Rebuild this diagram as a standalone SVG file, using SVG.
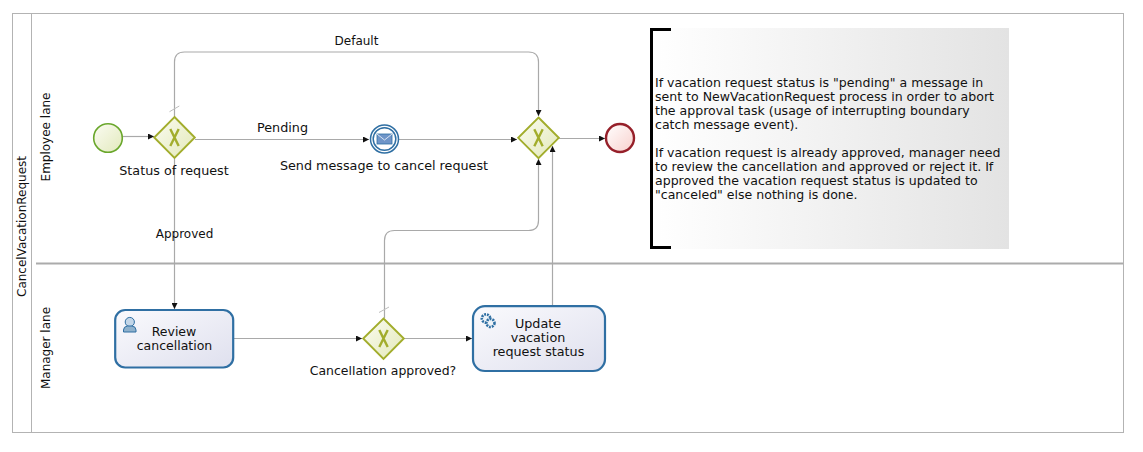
<svg xmlns="http://www.w3.org/2000/svg" width="1143" height="452" viewBox="0 0 1143 452">
<style>
text{font-family:"DejaVu Sans",sans-serif;font-size:12px;fill:#111}
.m{text-anchor:middle}
.l{font-size:12.75px}
.n{font-size:12.55px}
.flow{fill:none;stroke:#a9a9a9;stroke-width:1.2}
.gw{fill:url(#gGw);stroke:#a2ad2c;stroke-width:1.9;stroke-linejoin:miter}
.x{fill:none;stroke:#a2ad2c;stroke-width:2.4}
.task{fill:url(#gTask);stroke:#2f6fa3;stroke-width:2.2}
.gear{fill:#eef3f8;stroke:#2f6fa3;stroke-width:2.6;stroke-dasharray:1.900 1}
</style>
<defs>
<linearGradient id="gGw" x1="0" y1="0" x2="1" y2="1"><stop offset="0" stop-color="#fbfcf2"/><stop offset="1" stop-color="#e2e8b8"/></linearGradient>
<linearGradient id="gStart" x1="0" y1="0" x2="1" y2="1"><stop offset="0" stop-color="#fbfcf2"/><stop offset="1" stop-color="#e2e9bd"/></linearGradient>
<linearGradient id="gEnd" x1="0" y1="0" x2="1" y2="1"><stop offset="0" stop-color="#ffffff"/><stop offset="1" stop-color="#f8d0cc"/></linearGradient>
<linearGradient id="gTask" x1="0" y1="0" x2="1" y2="1"><stop offset="0" stop-color="#fafafd"/><stop offset="1" stop-color="#dfe0ee"/></linearGradient>
<linearGradient id="gNote" x1="0" y1="0" x2="1" y2="0"><stop offset="0" stop-color="#ffffff"/><stop offset="1" stop-color="#e3e3e3"/></linearGradient>
<marker id="arr" viewBox="0 0 6 6" refX="6" refY="3" markerWidth="6" markerHeight="6" markerUnits="userSpaceOnUse" orient="auto"><path d="M0 0L6 3L0 6Z" fill="#111"/></marker>
<g id="xm"><path class="x" d="M-4.200 -8.500L4.200 8.500M4.200 -8.500L-4.200 8.500"/></g>
</defs>
<rect width="1143" height="452" fill="#fff"/>
<g id="pool">
<rect x="12.500" y="13.500" width="1111" height="419" fill="none" stroke="#b3b3b3"/>
<line x1="31.500" y1="13.500" x2="31.500" y2="432.500" stroke="#b3b3b3"/>
<text class="m" transform="translate(26 226.500) rotate(-90)">CancelVacationRequest</text>
</g>
<g id="lanes">
<line x1="36" y1="263.500" x2="1123" y2="263.500" stroke="#ababab" stroke-width="2"/>
<text class="m" transform="translate(50 137) rotate(-90)">Employee lane</text>
<text class="m" transform="translate(50 348) rotate(-90)">Manager lane</text>
</g>
<g id="connectors">
<path class="flow" marker-end="url(#arr)" d="M123 136.500H154"/>
<path class="flow" marker-end="url(#arr)" d="M174.500 117V62Q174.500 52 184.500 52H528.500Q538.500 52 538.500 62V116"/>
<path class="flow" marker-end="url(#arr)" d="M195 139.500H369"/>
<path class="flow" marker-end="url(#arr)" d="M399 139.500H517"/>
<path class="flow" marker-end="url(#arr)" d="M559 138.500H605"/>
<path class="flow" marker-end="url(#arr)" d="M174.500 158V309"/>
<path class="flow" marker-end="url(#arr)" d="M234 338.500H362"/>
<path class="flow" marker-end="url(#arr)" d="M404 338.500H472"/>
<path class="flow" marker-end="url(#arr)" d="M384.500 318V240.500Q384.500 230.500 394.500 230.500H528.500Q538.500 230.500 538.500 220.500V159"/>
<path class="flow" marker-end="url(#arr)" d="M552.500 305V146"/>
<path d="M169.500 111.700L179.300 106M379 312.500L389 307" fill="none" stroke="#bdbdbd"/>
</g>
<g id="start"><circle cx="108" cy="138" r="14.300" fill="url(#gStart)" stroke="#6aa72c" stroke-width="1.600"/></g>
<g id="gw-status"><path class="gw" d="M174.500 117L194.800 137.500L174.500 157.800L154.200 137.500Z"/><use href="#xm" x="174.500" y="137.500"/><text class="m l" x="174" y="175">Status of request</text></g>
<g id="msg-event">
<circle cx="384.500" cy="139" r="14" fill="#fff" stroke="#2f6fa3" stroke-width="1.500"/>
<circle cx="384.500" cy="139" r="11.300" fill="#fff" stroke="#2f6fa3" stroke-width="1.500"/>
<rect x="377" y="134" width="15" height="10" fill="#6f95c8" stroke="#2f6fa3" stroke-width="0.800"/>
<path d="M377 134L384.500 140L392 134" fill="none" stroke="#e6edf6" stroke-width="0.900"/>
<text class="m l" x="384" y="170">Send message to cancel request</text>
</g>
<g id="gw-merge"><path class="gw" d="M538.500 117.500L558.800 137.800L538.500 158.100L518.200 137.800Z"/><use href="#xm" x="538.500" y="137.800"/></g>
<g id="end"><circle cx="620" cy="138" r="14" fill="url(#gEnd)" stroke="#96202a" stroke-width="2.400"/></g>
<g id="review">
<rect class="task" x="115.200" y="310" width="118" height="57.500" rx="10" ry="10"/>
<circle cx="129.800" cy="322" r="4.600" fill="#c3d6e8" stroke="#2f6fa3" stroke-width="1"/>
<path d="M123.500 332V330Q123.500 326.500 127.500 326H132Q136 326.500 136 330V332Z" fill="#8fb1cc" stroke="#2f6fa3" stroke-width="1"/>
<text class="m" x="174" y="336" style="font-size:12.500px">Review</text><text class="m" x="174.500" y="350" style="font-size:12.500px">cancellation</text>
</g>
<g id="gw-approved"><path class="gw" d="M383.500 318.500L403.800 338.500L383.500 358.800L363.200 338.500Z"/><use href="#xm" x="383.500" y="338.500"/><text class="m" x="383" y="375" style="font-size:12.450px">Cancellation approved?</text></g>
<g id="update">
<rect class="task" x="473" y="306.200" width="132" height="64.800" rx="12" ry="12"/>
<circle class="gear" cx="486" cy="318.500" r="4.200"/>
<circle class="gear" cx="490.500" cy="323" r="4"/>
<text class="m l" x="538" y="328">Update</text><text class="m l" x="538" y="342">vacation</text><text class="m l" x="538.500" y="356">request status</text>
</g>
<g id="labels">
<text class="m" x="356.500" y="45">Default</text>
<text class="m l" x="282.500" y="132">Pending</text>
<text class="m" x="184.500" y="238">Approved</text>
</g>
<g id="annotation">
<rect x="652" y="28" width="357" height="221" fill="url(#gNote)"/>
<path d="M671 29.500H651.500V247.500H671" fill="none" stroke="#000" stroke-width="3"/>
<text class="n" x="655" y="87">If vacation request status is "pending" a message in</text>
<text class="n" x="655" y="101">sent to NewVacationRequest process in order to abort</text>
<text class="n" x="655" y="115">the approval task (usage of interrupting boundary</text>
<text class="n" x="655" y="129">catch message event).</text>
<text class="n" x="655" y="157">If vacation request is already approved, manager need</text>
<text class="n" x="655" y="171">to review the cancellation and approved or reject it. If</text>
<text class="n" x="655" y="185">approved the vacation request status is updated to</text>
<text class="n" x="655" y="199">"canceled" else nothing is done.</text>
</g>
</svg>
